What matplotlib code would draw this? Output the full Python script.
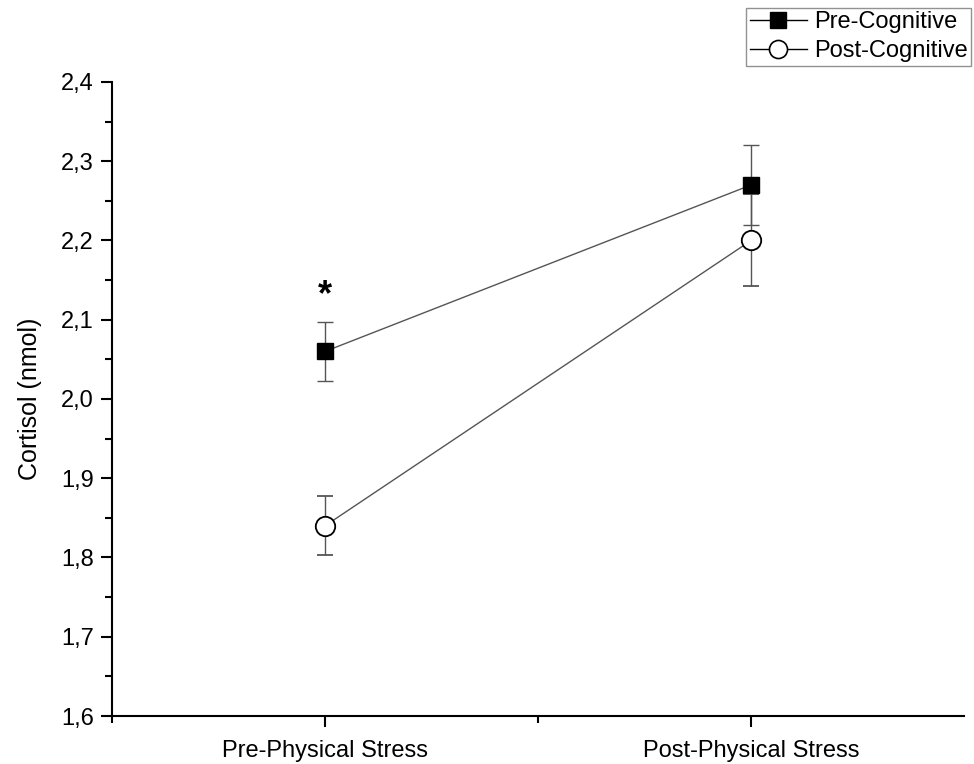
import matplotlib.pyplot as plt
from matplotlib.lines import Line2D
from matplotlib.ticker import FuncFormatter, MultipleLocator, FixedLocator

plt.rcParams['font.family'] = ['Liberation Sans', 'DejaVu Sans']

# Data
conditions = ['Pre-Physical Stress', 'Post-Physical Stress']
pre_cog = [2.06, 2.27]
pre_cog_err = [0.037, 0.05]
post_cog = [1.84, 2.20]
post_cog_err = [0.037, 0.058]

x = [1, 2]

fig = plt.figure(figsize=(9.74, 7.64), dpi=100)
ax = fig.add_axes([0.115, 0.0628, 0.875, 0.83])

ax.errorbar(x, pre_cog, yerr=pre_cog_err, color='#555555', lw=1, capsize=6,
            elinewidth=1, capthick=1, marker='s', ms=12, mfc='black', mec='black',
            zorder=3)
ax.errorbar(x, post_cog, yerr=post_cog_err, color='#555555', lw=1, capsize=6,
            elinewidth=1, capthick=1, marker='o', ms=14, mfc='white', mec='black',
            mew=1.3, zorder=3)

# significance marker
ax.text(1, 2.13, '*', ha='center', va='center', fontsize=26, fontweight='bold')

ax.set_xlim(0.5, 2.5)
ax.set_ylim(1.6, 2.4)
ax.set_xticks(x)
ax.set_xticklabels(conditions, fontsize=17)
ax.xaxis.set_minor_locator(FixedLocator([0.5, 1.5]))
ax.yaxis.set_major_locator(MultipleLocator(0.1))
ax.yaxis.set_minor_locator(MultipleLocator(0.05))
ax.yaxis.set_major_formatter(FuncFormatter(lambda v, p: ('%.1f' % v).replace('.', ',')))
ax.tick_params(axis='y', labelsize=17)
ax.tick_params(which='major', direction='out', length=8, width=1.5, pad=5)
ax.tick_params(axis='x', which='major', pad=9)
ax.tick_params(which='minor', direction='out', length=5, width=1.5)
ax.set_ylabel('Cortisol (nmol)', fontsize=18, labelpad=14)

for s in ['top', 'right']:
    ax.spines[s].set_visible(False)
for s in ['left', 'bottom']:
    ax.spines[s].set_linewidth(1.5)

handles = [
    Line2D([], [], color='black', lw=1, marker='s', ms=11, mfc='black', mec='black'),
    Line2D([], [], color='black', lw=1, marker='o', ms=13, mfc='white', mec='black', mew=1.2),
]
leg = fig.legend(handles, ['Pre-Cognitive', 'Post-Cognitive'], loc='upper right',
                 bbox_to_anchor=(0.997, 0.99), fontsize=17,
                 fancybox=False, edgecolor='#777777', borderpad=0.15,
                 labelspacing=0.3, handlelength=2.4, handletextpad=0.3,
                 borderaxespad=0)
leg.get_frame().set_linewidth(1)

fig.savefig('out.png', dpi=100)
